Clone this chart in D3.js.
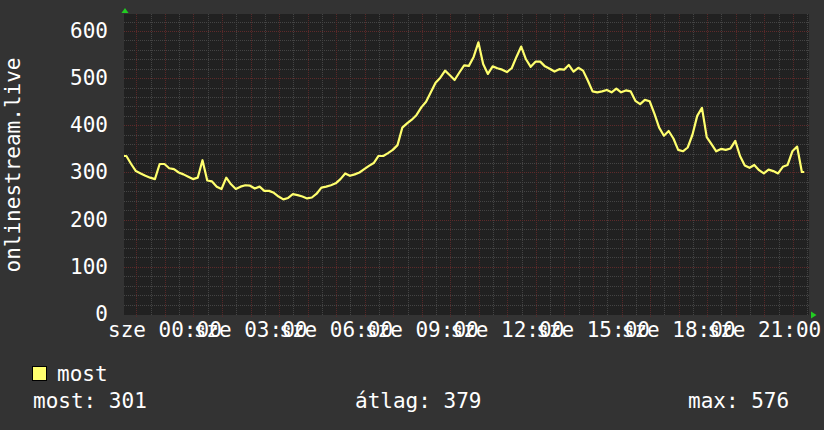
<!DOCTYPE html>
<html>
<head>
<meta charset="utf-8">
<script src="https://cdn.jsdelivr.net/npm/d3@7"></script>
<style>
  body { margin: 0; background: #333333; }
  svg text { font-family: "DejaVu Sans Mono", monospace; fill: #ffffff; }
</style>
</head>
<body>
<div id="chart"></div>
<script>
// minták 10 percenként, kedd 22:34-tól
var startTime = new Date(2024, 0, 2, 22, 34);
var stepMinutes = 10;
var values = [
    335, 318, 303, 298, 293, 289, 286, 318, 318, 309,
    307, 300, 296, 291, 286, 289, 326, 283, 281, 270,
    265, 289, 275, 265, 270, 273, 272, 266, 270, 261,
    261, 257, 249, 243, 246, 254, 252, 249, 245, 247,
    255, 268, 270, 273, 277, 286, 298, 293, 296, 300,
    307, 314, 320, 335, 335, 341, 348, 358, 395, 404,
    412, 422, 438, 450, 470, 490, 501, 516, 506, 496,
    512, 527, 526, 545, 576, 530, 509, 525, 521, 518,
    513, 521, 545, 567, 540, 524, 535, 535, 525, 520,
    514, 519, 518, 528, 514, 522, 516, 495, 472, 470,
    472, 475, 470, 478, 470, 474, 472, 452, 445, 454,
    451, 425, 395, 378, 388, 372, 348, 345, 353, 380,
    420, 437, 375, 360, 345, 350, 348, 351, 367, 335,
    315, 310, 316, 305, 298, 306, 303, 298, 312, 316,
    345, 355, 301
];
var yTicks = [0, 100, 200, 300, 400, 500, 600];
var dayNames = ["v", "h", "k", "sze", "cs", "p", "szo"];
var seriesName = "most";
var yTitle = "onlinestream.live";
var statNames = ["most", "átlag", "max"];
var statValues = [301, 379, 576];

var W = 824, H = 430;
var plot = { left: 124, right: 809, top: 14, bottom: 314 };
var lineColor = "#ffff6e";

// pontok a lépések közepén, a két végén kiegészítve
var data = values.map(function (v, i) {
    return { date: new Date(+startTime + (i + 0.5) * stepMinutes * 60000), value: v };
});
data.unshift({ date: startTime, value: values[0] });
data.push({ date: d3.timeMinute.offset(startTime, values.length * stepMinutes), value: values[values.length - 1] });

var x = d3.scaleTime()
    .domain([startTime, d3.timeHour.offset(startTime, 24)])
    .range([plot.left, plot.right]);
var y = d3.scaleLinear().domain([0, 636]).range([plot.bottom, plot.top]);

var svg = d3.select("#chart").append("svg")
    .attr("width", W)
    .attr("height", H);

svg.append("rect")
    .attr("width", W).attr("height", H)
    .attr("fill", "#333333");

svg.append("rect")
    .attr("x", plot.left).attr("y", plot.top)
    .attr("width", plot.right - plot.left)
    .attr("height", plot.bottom - plot.top + 1)
    .attr("fill", "#212121");

var crisp = function (v) { return Math.round(v) + 0.5; };

// rács: apró (szürke), fő (piros)
var majorTimes = x.ticks(d3.timeHour.every(1));
var minorTimes = x.ticks(d3.timeMinute.every(30)).filter(function (d) { return d.getMinutes() !== 0; });
var minorVals = d3.range(20, 636, 20).filter(function (v) { return v % 100 !== 0; });

var grid = svg.append("g")
    .attr("fill", "none")
    .attr("stroke-width", 1)
    .attr("stroke-dasharray", "1,1");

grid.selectAll(".vminor").data(minorTimes).enter().append("line")
    .attr("x1", function (d) { return crisp(x(d)); })
    .attr("x2", function (d) { return crisp(x(d)); })
    .attr("y1", plot.top).attr("y2", plot.bottom + 2)
    .attr("stroke", "#444444");

grid.selectAll(".hminor").data(minorVals).enter().append("line")
    .attr("x1", plot.left).attr("x2", plot.right)
    .attr("y1", function (d) { return crisp(y(d)); })
    .attr("y2", function (d) { return crisp(y(d)); })
    .attr("stroke", "#444444");

grid.selectAll(".vmajor").data(majorTimes).enter().append("line")
    .attr("x1", function (d) { return crisp(x(d)); })
    .attr("x2", function (d) { return crisp(x(d)); })
    .attr("y1", plot.top).attr("y2", plot.bottom + 3)
    .attr("stroke", "#582828");

grid.selectAll(".hmajor").data(yTicks.filter(function (v) { return v > 0; })).enter().append("line")
    .attr("x1", plot.left).attr("x2", plot.right)
    .attr("y1", function (d) { return crisp(y(d)); })
    .attr("y2", function (d) { return crisp(y(d)); })
    .attr("stroke", "#5e2a2a");

// tengelyfeliratok
var fmtTime = d3.timeFormat("%H:%M");
svg.append("g").selectAll("text")
    .data(x.ticks(d3.timeHour.every(3)))
    .enter().append("text")
    .attr("x", function (d) { return x(d); })
    .attr("y", 337)
    .attr("text-anchor", "middle")
    .attr("font-size", "21px")
    .text(function (d) { return dayNames[d.getDay()] + " " + fmtTime(d); });

svg.append("g").selectAll("text")
    .data(yTicks)
    .enter().append("text")
    .attr("x", 108)
    .attr("y", function (d) { return y(d) + 7; })
    .attr("text-anchor", "end")
    .attr("font-size", "21px")
    .text(function (d) { return d; });

svg.append("text")
    .attr("transform", "translate(20,165) rotate(-90)")
    .attr("text-anchor", "middle")
    .attr("font-size", "21px")
    .text(yTitle);

// nyilak
svg.append("path")
    .attr("d", "M121.5,13 L125,8 L128.5,13 Z")
    .attr("fill", "#22cc22");
svg.append("path")
    .attr("d", "M811,311.5 L816.5,315 L811,318.5 Z")
    .attr("fill", "#22cc22");

// adatsor
var line = d3.line()
    .x(function (d) { return x(d.date); })
    .y(function (d) { return y(d.value); })
    .curve(d3.curveLinear);

svg.append("path")
    .datum(data)
    .attr("d", line)
    .attr("fill", "none")
    .attr("stroke", lineColor)
    .attr("stroke-width", 2.2)
    .attr("stroke-linejoin", "round");

// jelmagyarázat
svg.append("rect")
    .attr("x", 32.5).attr("y", 366.5)
    .attr("width", 14).attr("height", 14)
    .attr("fill", lineColor)
    .attr("stroke", "#000000");

svg.append("text")
    .attr("x", 57).attr("y", 381)
    .attr("font-size", "21px")
    .text(seriesName);

var statX = [33, 355, 688];
svg.append("g").selectAll("text")
    .data(statNames)
    .enter().append("text")
    .attr("x", function (d, i) { return statX[i]; })
    .attr("y", 408)
    .attr("font-size", "21px")
    .text(function (d, i) { return d + ": " + statValues[i]; });
</script>
</body>
</html>
